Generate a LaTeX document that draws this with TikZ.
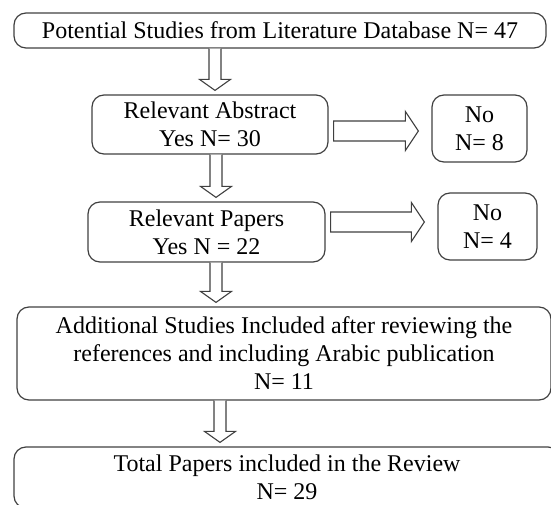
\documentclass[tikz,border=0pt]{standalone}
\usepackage{fontspec}
\setmainfont{Liberation Serif}
\usetikzlibrary{calc}
\tikzset{
  box/.style={draw=black!75,line width=1.2pt,rounded corners=12pt,align=center,
    inner sep=2pt,font=\fontsize{24}{28}\selectfont},
  flow/.style={draw=black!75,line width=1.1pt,fill=white,line join=miter},
}

\begin{document}
\begin{tikzpicture}[x=1pt,y=1pt]
\useasboundingbox (0,0) rectangle (551,504);
\node[box,minimum width=532pt,minimum height=35pt] (pot) at (280,473.5)
  {Potential Studies from Literature Database N= 47};
\node[box,minimum width=236pt,minimum height=59pt] (abs) at (210,379.5)
  {Relevant Abstract\\Yes N= 30};
\node[box,minimum width=95pt,minimum height=67pt] (absno) at (479.5,375.5)
  {No\\N= 8};
\node[box,minimum width=237pt,minimum height=60pt] (pap) at (206.5,272)
  {Relevant Papers\\Yes N = 22};
\node[box,minimum width=99pt,minimum height=67pt] (papno) at (487.5,277.5)
  {No\\N= 4};
\node[box,minimum width=534pt,minimum height=93pt] (add) at (284,150.5)
  {Additional Studies Included after reviewing the\\references and including Arabic publication\\N= 11};
\node[box,minimum width=546pt,minimum height=61pt] (tot) at (287,26.5)
  {Total Papers included in the Review\\N= 29};
\foreach \a/\b/\xx in {pot/abs/215,abs/pap/216,pap/add/216,add/tot/220}
  \draw[flow] let \p1=(\a.south), \p2=(\b.north), \p3=(\xx,0) in
    (\x3-6pt,\y1) -- (\x3-6pt,\y2+15pt) -- (\x3-15.5pt,\y2+15pt) -- (\x3,\y2+4pt)
    -- (\x3+15.5pt,\y2+15pt) -- (\x3+6pt,\y2+15pt) -- (\x3+6pt,\y1);
\foreach \a/\b/\yy in {abs/absno/373,pap/papno/282}
  \draw[flow] let \p1=(\a.east), \p2=(\b.west), \p3=(0,\yy) in
    (\x1+5pt,\y3+10pt) -- (\x2-26pt,\y3+10pt) -- (\x2-26pt,\y3+19.5pt) -- (\x2-13pt,\y3)
    -- (\x2-26pt,\y3-19.5pt) -- (\x2-26pt,\y3-10pt) -- (\x1+5pt,\y3-10pt) -- cycle;
\end{tikzpicture}
\end{document}
